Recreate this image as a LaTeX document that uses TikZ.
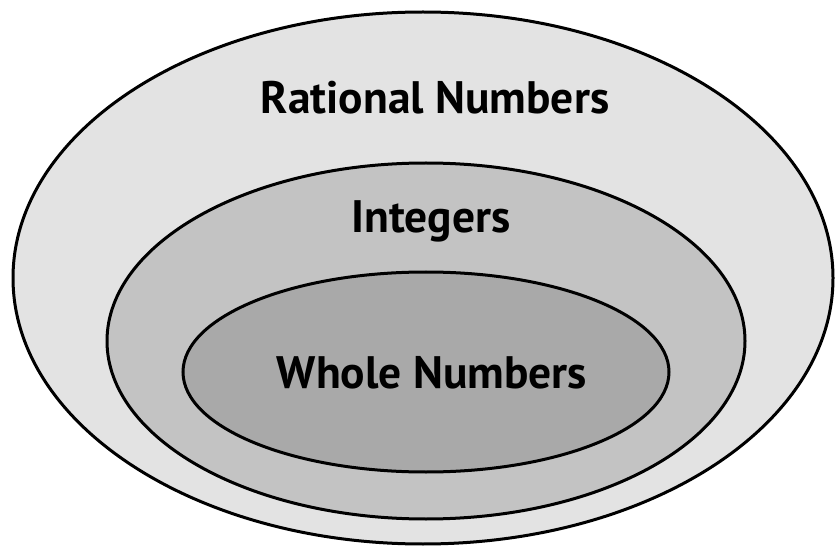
\documentclass[tikz,border=0pt]{standalone}
\usepackage{fontspec}
\setmainfont{PT Sans}
\definecolor{outerfill}{HTML}{E3E3E3}
\definecolor{midfill}{HTML}{C3C3C3}
\definecolor{innerfill}{HTML}{A9A9A9}
\begin{document}
\begin{tikzpicture}[x=1pt,y=-1pt,
  setbox/.style={draw=black,line width=3pt},
  label/.style={font=\bfseries\fontsize{45.5}{45.5}\selectfont,anchor=base,inner sep=0pt}]
\useasboundingbox (0,0) rectangle (836,548);
\fill[white] (0,0) rectangle (836,548);
\path[setbox,fill=outerfill] (423,278) ellipse [x radius=410,y radius=266];
\path[setbox,fill=midfill] (426,341) ellipse [x radius=319,y radius=178];
\path[setbox,fill=innerfill] (426,372) ellipse [x radius=243,y radius=100];
\node[label] (rational) at (435,114) {Rational Numbers};
\node[label] (integers) at (431,233) {Integers};
\node[label] (whole) at (432,388) {Whole Numbers};
\end{tikzpicture}
\end{document}
